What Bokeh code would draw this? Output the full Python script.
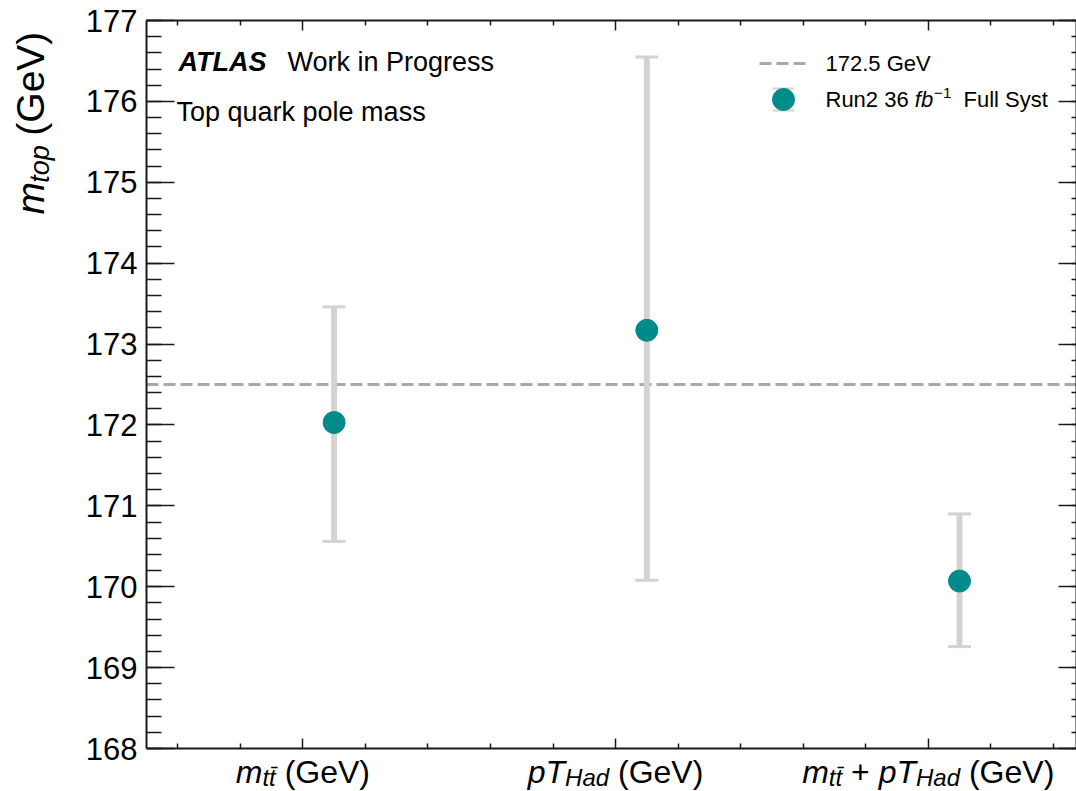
import unicodedata
from bokeh.plotting import figure
from bokeh.layouts import row
from bokeh.models import (Range1d, LinearAxis, FixedTicker, Label, Whisker, TeeHead,
                          ColumnDataSource, Span, CustomJSTickFormatter)
from bokeh.embed import file_html
from bokeh.resources import INLINE

# ---------------- data ----------------
categories = ["mtt", "pTHad", "mtt+pTHad"]
m_top = [172.03, 173.17, 170.07]
err_high = [173.46, 176.55, 170.90]
err_low = [170.56, 170.08, 169.26]
ref_mass = 172.5
y_ticks = [168, 169, 170, 171, 172, 173, 174, 175, 176, 177]
x_ticks = [0, 1, 2]
point_shift = 0.1

# ---------------- layout ----------------
W, H = 1076, 791
YLW = 60                              # strip holding the rotated y label
FL, FR, FT, FB = 146, 1076, 20, 748   # plotting box in page pixels
fw = FR - FL
x_start = -0.5
x_end = x_start + fw / 312.7
y_min, y_max = y_ticks[0], y_ticks[-1]
y_scale = (FB - FT) / (y_max - y_min)
y_low = y_min - (H - FB) / y_scale    # frame runs down to the page bottom

TEAL = "#008b8b"
ERR = "#d3d3d3"
DASH = "#a9a9a9"
INK = "#1a1a1a"
FONT = "Liberation Sans"

p = figure(width=W - YLW, height=H, x_range=Range1d(x_start, x_end),
           y_range=Range1d(y_low, y_max),
           output_backend="svg", toolbar_location=None,
           min_border_left=FL - YLW, min_border_right=0, min_border_top=FT,
           min_border_bottom=0, x_axis_type=None, y_axis_type=None)
p.background_fill_color = "white"
p.border_fill_color = "white"
p.outline_line_color = None
p.extra_x_ranges = {"px": Range1d(0, fw)}
p.extra_y_ranges = {"py": Range1d(0, H - FT)}

blank = CustomJSTickFormatter(code="return ''")

y_minor = [y_min + 0.2 * k for k in range(46)]
x_minor = [round(-0.4 + 0.2 * k, 2) for k in range(15)]
x_minor = [v for v in x_minor if abs(v - round(v)) > 1e-6]


def make_axis(ticker, tin, tmin, labels, **kw):
    ax = LinearAxis(ticker=ticker, major_tick_in=tin, major_tick_out=0,
                    minor_tick_in=tmin, minor_tick_out=0,
                    axis_line_color=INK, axis_line_width=2,
                    major_tick_line_color=INK, minor_tick_line_color=INK,
                    major_tick_line_width=1.5, minor_tick_line_width=1.5, **kw)
    if labels:
        ax.major_label_standoff = 9
        ax.major_label_text_font = FONT
        ax.major_label_text_font_size = "31px"
        ax.major_label_text_color = "black"
    else:
        ax.formatter = blank
        ax.major_label_text_font_size = "0px"
        ax.major_label_standoff = 0
    return ax


yt = FixedTicker(ticks=y_ticks, minor_ticks=y_minor)
xt = FixedTicker(ticks=x_ticks, minor_ticks=x_minor)
p.add_layout(make_axis(yt, 28, 15, True, bounds=(y_min, y_max)), "left")
p.add_layout(make_axis(yt, 18, 5, False, bounds=(y_min, y_max)), "right")
p.add_layout(make_axis(xt, 10, 5, False, fixed_location=y_min), "below")
p.add_layout(make_axis(xt, 10, 5, False), "above")

# ---------------- marks ----------------
src = ColumnDataSource(dict(x=[i + point_shift for i in x_ticks], y=m_top,
                            upper=err_high, lower=err_low))

p.add_layout(Span(location=ref_mass, dimension="width", line_color=DASH, line_width=3,
                  line_dash="12 5", level="underlay"))

p.add_layout(Whisker(base="x", upper="upper", lower="lower", source=src, dimension="height",
                     line_color=ERR, line_width=6,
                     upper_head=TeeHead(size=23, line_color=ERR, line_width=3),
                     lower_head=TeeHead(size=23, line_color=ERR, line_width=3)))
p.scatter("x", "y", source=src, size=22, fill_color=TEAL, line_color=TEAL)

# ---------------- text helpers ----------------
AW = {' ': 278, '(': 333, ')': 333, '+': 584, 'G': 778, 'e': 556, 'V': 667, 'm': 833,
      't': 278, 'p': 556, 'T': 611, 'H': 722, 'a': 556, 'd': 556, 'R': 722, 'u': 556,
      'n': 556, 'f': 278, 'b': 556, 'F': 611, 'l': 222, 'S': 667, 'y': 500, 's': 500,
      'o': 556, '\u2212': 584, '.': 278}
MID = 0.35   # baseline -> middle of text box, in em


def tw(s, size):
    w = 0
    for c in s:
        if unicodedata.combining(c):
            continue
        w += AW.get(c, 556)
    return w * size / 1000


STY = {"n": "normal", "i": "italic", "b": "bold", "bi": "bold italic"}


def add_text(fig, x, y, s, size, st="n", xr="default", yr="default", angle=0, x_offset=0):
    fig.add_layout(Label(x=x, y=y, text=s, x_range_name=xr, y_range_name=yr,
                         x_offset=x_offset, angle=angle,
                         text_font=FONT, text_font_size=f"{size}px",
                         text_font_style=STY[st], text_color="black",
                         text_align="left", text_baseline="middle"))


def px(cx):
    return cx - FL


def py(cy, size):
    # page baseline y -> middle line of the text box in frame pixels
    return H - cy + MID * size


# ---------------- category labels under the axis ----------------
XS, XSUB = 32, 24
cat_pieces = [
    [("m", XS, "i", 0), ("tt\u0304", XSUB, "i", 2), (" (GeV)", XS, "n", 0)],
    [("pT", XS, "i", 0), ("Had", XSUB, "i", 2), (" (GeV)", XS, "n", 0)],
    [("m", XS, "i", 0), ("tt\u0304", XSUB, "i", 2), (" + ", XS, "n", 0),
     ("pT", XS, "i", 0), ("Had", XSUB, "i", 2), (" (GeV)", XS, "n", 0)],
]
XBASE = 783
for cx, pieces in zip(x_ticks, cat_pieces):
    total = sum(tw(s, sz) for s, sz, st, dy in pieces)
    off = -total / 2
    for s, sz, st, dy in pieces:
        lead = len(s) - len(s.lstrip())
        add_text(p, cx, py(XBASE + dy, sz), s.strip(), sz, st, yr="py",
                 x_offset=off + tw(" " * lead, sz))
        off += tw(s, sz)

# ---------------- rotated y label (own strip) ----------------
yl = figure(width=YLW, height=H, x_range=Range1d(0, YLW), y_range=Range1d(0, H),
            output_backend="svg", toolbar_location=None, min_border_left=0,
            min_border_right=0, min_border_top=0, min_border_bottom=0,
            x_axis_type=None, y_axis_type=None)
yl.outline_line_color = None
yl.background_fill_color = "white"
yl.border_fill_color = "white"
YS, YSUB = 39, 27
ypieces = [("m", YS, "i", 0), ("top", YSUB, "i", 5), (" (GeV)", YS, "n", 0)]
YBASE_X, YSTART = 44, 199
ypos = H - YSTART
for s, sz, st, dx in ypieces:
    lead = len(s) - len(s.lstrip())
    add_text(yl, YBASE_X + dx - MID * sz, ypos + tw(" " * lead, sz), s.strip(), sz, st,
             angle=1.5707963)
    ypos += tw(s, sz)

# ---------------- ATLAS label ----------------
AS = 27
add_text(p, px(178), py(71, AS), "ATLAS", AS, "bi", "px", "py")
add_text(p, px(287), py(71, AS), "Work in Progress", AS, "n", "px", "py")
add_text(p, px(176), py(121, AS), "Top quark pole mass", AS, "n", "px", "py")

# ---------------- legend ----------------
LS = 22
p.line(x=[px(759), px(806)], y=[H - 63, H - 63], x_range_name="px", y_range_name="py",
       line_color=DASH, line_width=3, line_dash="12 5")
p.scatter(x=[px(783), px(783)], y=[H - 88, H - 110], x_range_name="px", y_range_name="py",
          marker="dash", size=21, line_color=ERR, line_width=2)
p.scatter(x=[px(783)], y=[H - 99], x_range_name="px", y_range_name="py",
          size=22, fill_color=TEAL, line_color=TEAL)
add_text(p, px(825), py(71, LS), "172.5 GeV", LS, "n", "px", "py")
lx = px(825)
add_text(p, lx, py(107, LS), "Run2 36", LS, "n", "px", "py")
lx += tw("Run2 36 ", LS)
add_text(p, lx, py(107, LS), "fb", LS, "i", "px", "py")
lx += tw("fb", LS) + 1
add_text(p, lx, py(98, 15), "\u22121", 15, "n", "px", "py")
lx += tw("\u22121", 15) + tw("  ", LS)
add_text(p, lx, py(107, LS), "Full Syst", LS, "n", "px", "py")

layout = row(yl, p, spacing=0)
open("out.html", "w").write(file_html(layout, INLINE))
